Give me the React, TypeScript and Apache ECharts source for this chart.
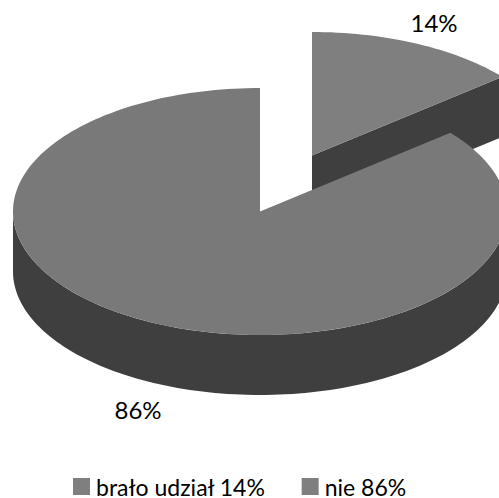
import React, { useEffect, useRef } from "react";
import * as echarts from "echarts";

const sliceNames = ["brało udział 14%", "nie 86%"];
const sliceValues = [14, 86];
const sliceLabels = ["14%", "86%"];
const topColors = ["#7f7f7f", "#797979"];
const sideColor = "#3f3f3f";
const legendColor = "#7f7f7f";
const fontFamily = "Lato, Carlito, sans-serif";

const RX = 247;
const RY = 123.5;
const DEPTH = 60;
const centers = [
  [312, 155.5],
  [260, 211.5],
];
const labelPos = [
  [434, 22],
  [138, 409],
];

function sliceRange(index: number) {
  const total = sliceValues.reduce((a, b) => a + b, 0);
  let before = 0;
  for (let i = 0; i < index; i++) before += sliceValues[i];
  return [(before / total) * Math.PI * 2, ((before + sliceValues[index]) / total) * Math.PI * 2];
}

function pt(c: number[], a: number, dy = 0) {
  return [c[0] + RX * Math.sin(a), c[1] - RY * Math.cos(a) + dy];
}

function arc(c: number[], a0: number, a1: number, dy = 0) {
  const n = Math.max(2, Math.ceil(((a1 - a0) / (Math.PI * 2)) * 240));
  const out: number[][] = [];
  for (let i = 0; i <= n; i++) out.push(pt(c, a0 + ((a1 - a0) * i) / n, dy));
  return out;
}

function renderSlice(params: any) {
  const idx = params.seriesIndex;
  const [a0, a1] = sliceRange(idx);
  const c = centers[idx];
  const children: any[] = [];
  const sideStyle = { fill: sideColor };

  // outer wall, visible on the front half of the ellipse only
  const f0 = Math.max(a0, Math.PI / 2);
  const f1 = Math.min(a1, (Math.PI * 3) / 2);
  if (f1 > f0) {
    const top = arc(c, f0, f1);
    const bottom = arc(c, f0, f1, DEPTH).reverse();
    children.push({ type: "polygon", shape: { points: top.concat(bottom) }, style: sideStyle });
  }
  // cut wall facing the viewer
  if (a1 < Math.PI) {
    const e = pt(c, a1);
    children.push({
      type: "polygon",
      shape: { points: [c, e, [e[0], e[1] + DEPTH], [c[0], c[1] + DEPTH]] },
      style: sideStyle,
    });
  }
  children.push({
    type: "polygon",
    shape: { points: [c as number[]].concat(arc(c, a0, a1)) },
    style: { fill: topColors[idx] },
  });
  children.push({
    type: "text",
    x: labelPos[idx][0],
    y: labelPos[idx][1],
    style: {
      text: sliceLabels[idx],
      fill: "#000000",
      fontSize: 24,
      fontFamily,
      align: "center",
      verticalAlign: "middle",
    },
  });
  return { type: "group", children };
}

export default function App() {
  const ref = useRef<HTMLDivElement>(null);
  useEffect(() => {
    if (!ref.current) return;
    const chart = echarts.init(ref.current, undefined, { renderer: "svg" });
    chart.setOption({
      animation: false,
      backgroundColor: "#ffffff",
      legend: {
        left: 73,
        top: 475,
        itemWidth: 17,
        itemHeight: 17,
        itemGap: 36,
        padding: 0,
        icon: "rect",
        selectedMode: false,
        data: sliceNames,
        textStyle: {
          fontSize: 23,
          lineHeight: 20,
          fontFamily,
          color: "#000000",
          padding: [0, 0, 0, 1],
        },
      },
      series: sliceNames.map((name, i) => ({
        type: "custom",
        name,
        coordinateSystem: "none",
        silent: true,
        clip: false,
        itemStyle: { color: legendColor },
        data: [sliceValues[i]],
        renderItem: renderSlice,
      })),
    });
    return () => chart.dispose();
  }, []);
  return (
    <div
      ref={ref}
      style={{ position: "absolute", left: 0, top: 0, width: 499, height: 498, overflow: "hidden" }}
    />
  );
}
